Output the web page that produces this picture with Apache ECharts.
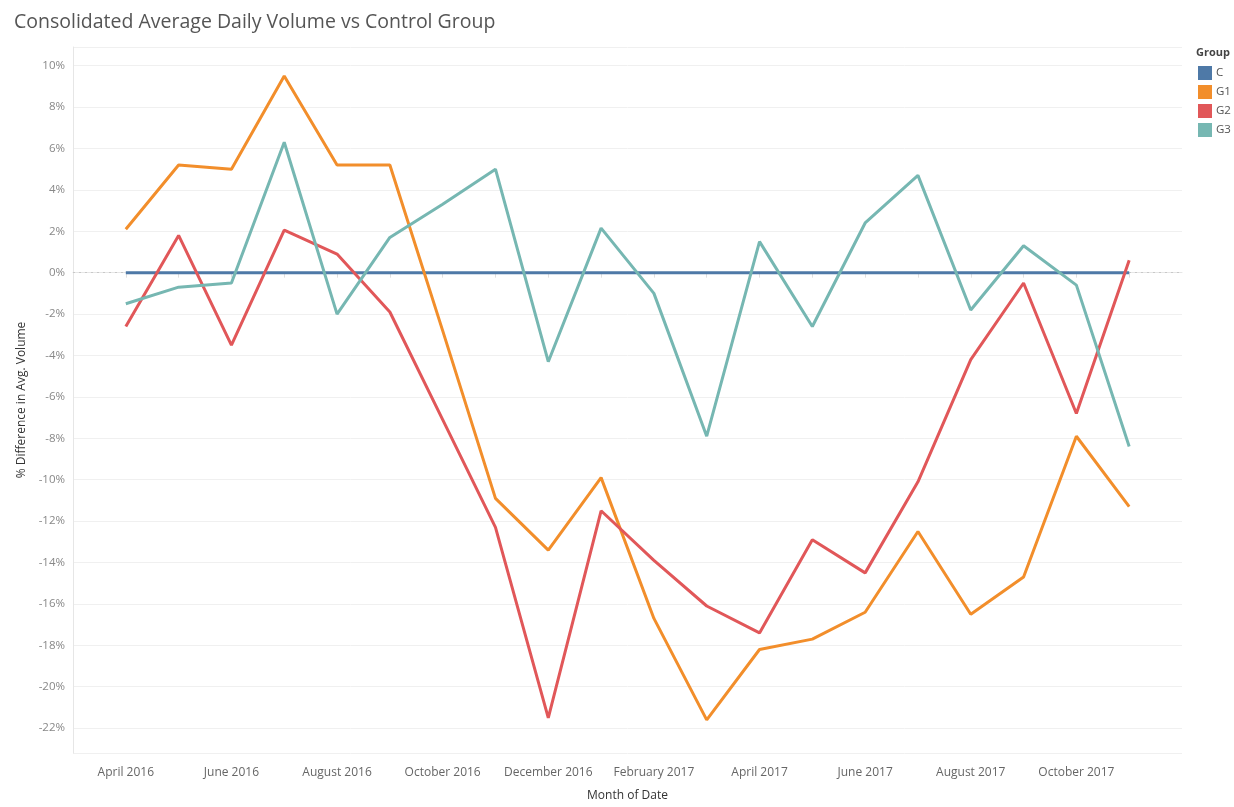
<!DOCTYPE html>
<html>
<head>
<meta charset="utf-8">
<title>Consolidated Average Daily Volume vs Control Group</title>
<script src="https://cdn.jsdelivr.net/npm/echarts@6/dist/echarts.min.js"></script>
<style>
  html, body { margin: 0; padding: 0; background: #fff; }
  #chart { width: 1234px; height: 807px; }
</style>
</head>
<body>
<div id="chart"></div>
<script>
// months shown on the axis (one point per month)
var months = [
  'April 2016', 'May 2016', 'June 2016', 'July 2016', 'August 2016', 'September 2016',
  'October 2016', 'November 2016', 'December 2016', 'January 2017', 'February 2017',
  'March 2017', 'April 2017', 'May 2017', 'June 2017', 'July 2017', 'August 2017',
  'September 2017', 'October 2017', 'November 2017'
]
// % difference vs control group
var groupC = [0, 0, 0, 0, 0, 0, 0, 0, 0, 0, 0, 0, 0, 0, 0, 0, 0, 0, 0, 0]
var groupG1 = [2.1, 5.2, 5.0, 9.5, 5.2, 5.2, -2.8, -10.9, -13.4, -9.9, -16.7, -21.6, -18.2, -17.7, -16.4, -12.5, -16.5, -14.7, -7.9, -11.3]
var groupG2 = [-2.6, 1.8, -3.5, 2.05, 0.9, -1.9, -7.1, -12.3, -21.5, -11.5, -13.9, -16.1, -17.4, -12.9, -14.5, -10.1, -4.2, -0.5, -6.8, 0.6]
var groupG3 = [-1.5, -0.7, -0.5, 6.3, -2.0, 1.7, 3.3, 5.0, -4.3, 2.15, -1.0, -7.9, 1.5, -2.6, 2.4, 4.7, -1.8, 1.3, -0.6, -8.4]

var groupNames = ['C', 'G1', 'G2', 'G3']
var groupColors = ['#4e79a7', '#f28e2b', '#e15759', '#76b7b2']

// axis padded by one empty month on each side, like the original
function pad(arr) {
  return [null].concat(arr, [null])
}
var axisMonths = [''].concat(months, [''])

var font = '"Open Sans", "Noto Sans", sans-serif'

var chart = echarts.init(document.getElementById('chart'))

function lineSeries(name, data, color, extra) {
  var s = {
    name: name,
    type: 'line',
    data: pad(data),
    symbol: 'none',
    showSymbol: false,
    connectNulls: false,
    lineStyle: { color: color, width: 3 },
    itemStyle: { color: color },
    emphasis: { disabled: true }
  }
  return Object.assign(s, extra || {})
}

chart.setOption({
  animation: false,
  color: groupColors,
  textStyle: { fontFamily: font },
  title: [
    {
      text: 'Consolidated Average Daily Volume vs Control Group',
      left: 9,
      top: 7,
      textStyle: { fontFamily: font, fontSize: 19.5, fontWeight: 'normal', color: '#555' }
    },
    {
      text: 'Group',
      left: 1191,
      top: 42,
      textStyle: { fontFamily: font, fontSize: 11, fontWeight: 'bold', color: '#444' }
    }
  ],
  legend: {
    orient: 'vertical',
    left: 1193,
    top: 61,
    itemWidth: 14,
    itemHeight: 14,
    itemGap: 5,
    icon: 'rect',
    data: groupNames,
    textStyle: { fontFamily: font, fontSize: 11.5, color: '#555', padding: [0, 0, 0, -1] }
  },
  grid: {
    left: 73,
    right: 52,
    top: 47,
    bottom: 44,
    containLabel: false
  },
  xAxis: {
    type: 'category',
    boundaryGap: false,
    data: axisMonths,
    name: 'Month of Date',
    nameLocation: 'middle',
    nameGap: 37,
    nameTextStyle: { fontFamily: font, fontSize: 12, color: '#333' },
    axisLine: { lineStyle: { color: '#e6e6e6' } },
    axisTick: {
      length: 5,
      lineStyle: { color: '#e0e0e0' },
      interval: function (i) { return i > 0 && i < axisMonths.length - 1 }
    },
    axisLabel: {
      interval: function (i) { return i % 2 === 1 },
      fontFamily: font,
      fontSize: 12,
      color: '#666',
      margin: 14
    },
    splitLine: { show: false }
  },
  yAxis: {
    type: 'value',
    min: -23.2,
    max: 10.9,
    splitNumber: 17,
    name: '% Difference in Avg. Volume',
    nameLocation: 'middle',
    nameGap: 44,
    nameRotate: 90,
    nameTextStyle: { fontFamily: font, fontSize: 12, color: '#333' },
    axisLine: { show: true, lineStyle: { color: '#e6e6e6' } },
    axisTick: { show: false },
    axisLabel: {
      fontFamily: font,
      fontSize: 11.5,
      color: '#888',
      margin: 8,
      showMinLabel: false,
      showMaxLabel: false,
      formatter: function (v) { return Math.round(v) + '%' }
    },
    splitLine: { lineStyle: { color: '#f0f0f0', width: 1 } }
  },
  series: [
    lineSeries('C', groupC, groupColors[0], {
      markLine: {
        silent: true,
        symbol: 'none',
        label: { show: false },
        lineStyle: { color: '#c8c8c8', type: [2, 4], width: 1 },
        data: [{ yAxis: 0 }],
        z: 1
      }
    }),
    lineSeries('G1', groupG1, groupColors[1]),
    lineSeries('G2', groupG2, groupColors[2]),
    lineSeries('G3', groupG3, groupColors[3])
  ]
})
</script>
</body>
</html>
